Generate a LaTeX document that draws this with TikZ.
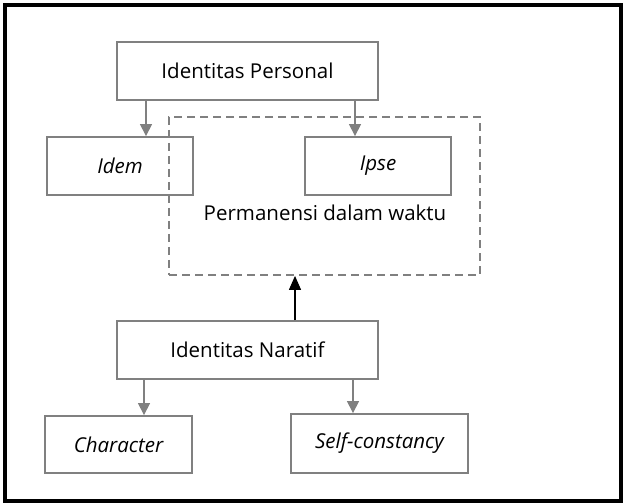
\documentclass[tikz,border=0pt]{standalone}
\usepackage{fontspec}
\setmainfont{Open Sans}
\usepackage{tikz}
\usetikzlibrary{arrows.meta, positioning}
\definecolor{boxgray}{RGB}{128,128,128}
\tikzset{
  idbox/.style = {draw=boxgray, line width=1.8pt, align=center, inner sep=0pt,
    text centered, font=\fontsize{20.5}{24}\selectfont},
  garrow/.style = {draw=boxgray, line width=1.2pt, -{Triangle[width=12pt, length=12pt]}},
  karrow/.style = {draw=black, line width=1.2pt, -{Triangle[width=12pt, length=14pt]}},
  dashbox/.style = {draw=boxgray, line width=1.8pt, dash pattern=on 8pt off 5pt}
}
\begin{document}
\begin{tikzpicture}[x=1pt, y=1pt]
\useasboundingbox (0,0) rectangle (626,503);
\draw[line width=4pt] (5,2) rectangle (621,498);
% upper part
\node [idbox, minimum width=261pt, minimum height=58pt] (persn) at (247.5,432) {Identitas Personal};
\node [idbox, minimum width=146pt, minimum height=58pt] (idem) at (120,337) {\itshape Idem};
\node [idbox, minimum width=146pt, minimum height=58pt] (ipse) at (378,337) {\itshape Ipse};
\node [dashbox, minimum width=311pt, minimum height=158pt] (perm) at (324.5,307) {};
\node [font=\fontsize{20.5}{24}\selectfont] (permtxt) at (325,290) {Permanensi dalam waktu};
% lower part
\node [idbox, minimum width=261pt, minimum height=58pt] (narat) at (247.5,153) {Identitas Naratif};
\node [idbox, minimum width=147pt, minimum height=57pt] (chara) at (118.5,58.5) {\itshape Character};
\node [idbox, minimum width=177pt, minimum height=59pt] (selfc) at (379.5,59.5) {\itshape Self-constancy};
% connectors
\draw [garrow] (persn.south -| 146,0) -- (idem.north -| 146,0);
\draw [garrow] (persn.south -| 355,0) -- (ipse.north -| 355,0);
\draw [karrow] (narat.north -| 295,0) -- (perm.south -| 295,0);
\draw [garrow] (narat.south -| 144,0) -- (chara.north -| 144,0);
\draw [garrow] (narat.south -| 353,0) -- (selfc.north -| 353,0);
\end{tikzpicture}
\end{document}
